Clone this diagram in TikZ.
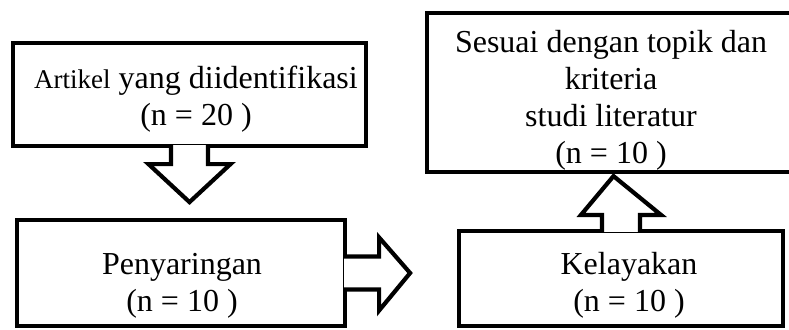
\documentclass[tikz,border=0pt]{standalone}
\usepackage{fontspec}
\setmainfont{Liberation Serif}
\usetikzlibrary{calc}

\begin{document}
\begin{tikzpicture}[x=1pt, y=-1pt, align=center]
\tikzstyle{box} = [rectangle, draw=black, line width=4.2pt, inner sep=0pt, minimum width=#1]
\tikzstyle{txt} = [anchor=base, inner sep=0pt, font=\fontsize{32}{37}\selectfont]
\tikzstyle{blk} = [draw=black, fill=white, line width=4.2pt, line join=miter]

\useasboundingbox (0,0) rectangle (789,329);
\clip (0,0) rectangle (789,329);

\node[box=353pt, minimum height=103pt] (art) at (189.5, 94.5) {};
\node[box=328pt, minimum height=106pt] (pen) at (181, 273) {};
\node[box=373pt, minimum height=159pt] (ses) at (613.5, 92.5) {};
\node[box=324pt, minimum height=95pt] (kel) at (621, 278.5) {};

\filldraw[blk] ($(art.south)+(-18.5,-3)$) -- ($(art.south)+(-18.5,16)$) -- ($(art.south)+(-41,16)$)
  -- ($(art.south)+(0,54)$) -- ($(art.south)+(41,16)$) -- ($(art.south)+(18.5,16)$) -- ($(art.south)+(18.5,-3)$);
\filldraw[blk] ($(pen.east)+(-3,-16.5)$) -- ($(pen.east)+(32,-16.5)$) -- ($(pen.east)+(32,-35.5)$)
  -- ($(pen.east)+(63,0)$) -- ($(pen.east)+(32,37.5)$) -- ($(pen.east)+(32,16.5)$) -- ($(pen.east)+(-3,16.5)$);
\filldraw[blk] ($(kel.north)+(-19,3)$) -- ($(kel.north)+(-19,-14)$) -- ($(kel.north)+(-40,-14)$)
  -- ($(ses.south)+(0,2)$) -- ($(kel.north)+(40,-14)$) -- ($(kel.north)+(19,-14)$) -- ($(kel.north)+(19,3)$);

\node[txt] (artT) at (196, 125) {{\fontsize{27}{37}\selectfont Artikel} yang diidentifikasi\\(n = 20 )};
\node[txt] (penT) at (182, 311) {Penyaringan\\(n = 10 )};
\node[txt] (sesT) at (611, 163) {Sesuai dengan topik dan\\kriteria\\studi literatur\\(n = 10 )};
\node[txt] (kelT) at (629, 311) {Kelayakan\\(n = 10 )};
\end{tikzpicture}
\end{document}
